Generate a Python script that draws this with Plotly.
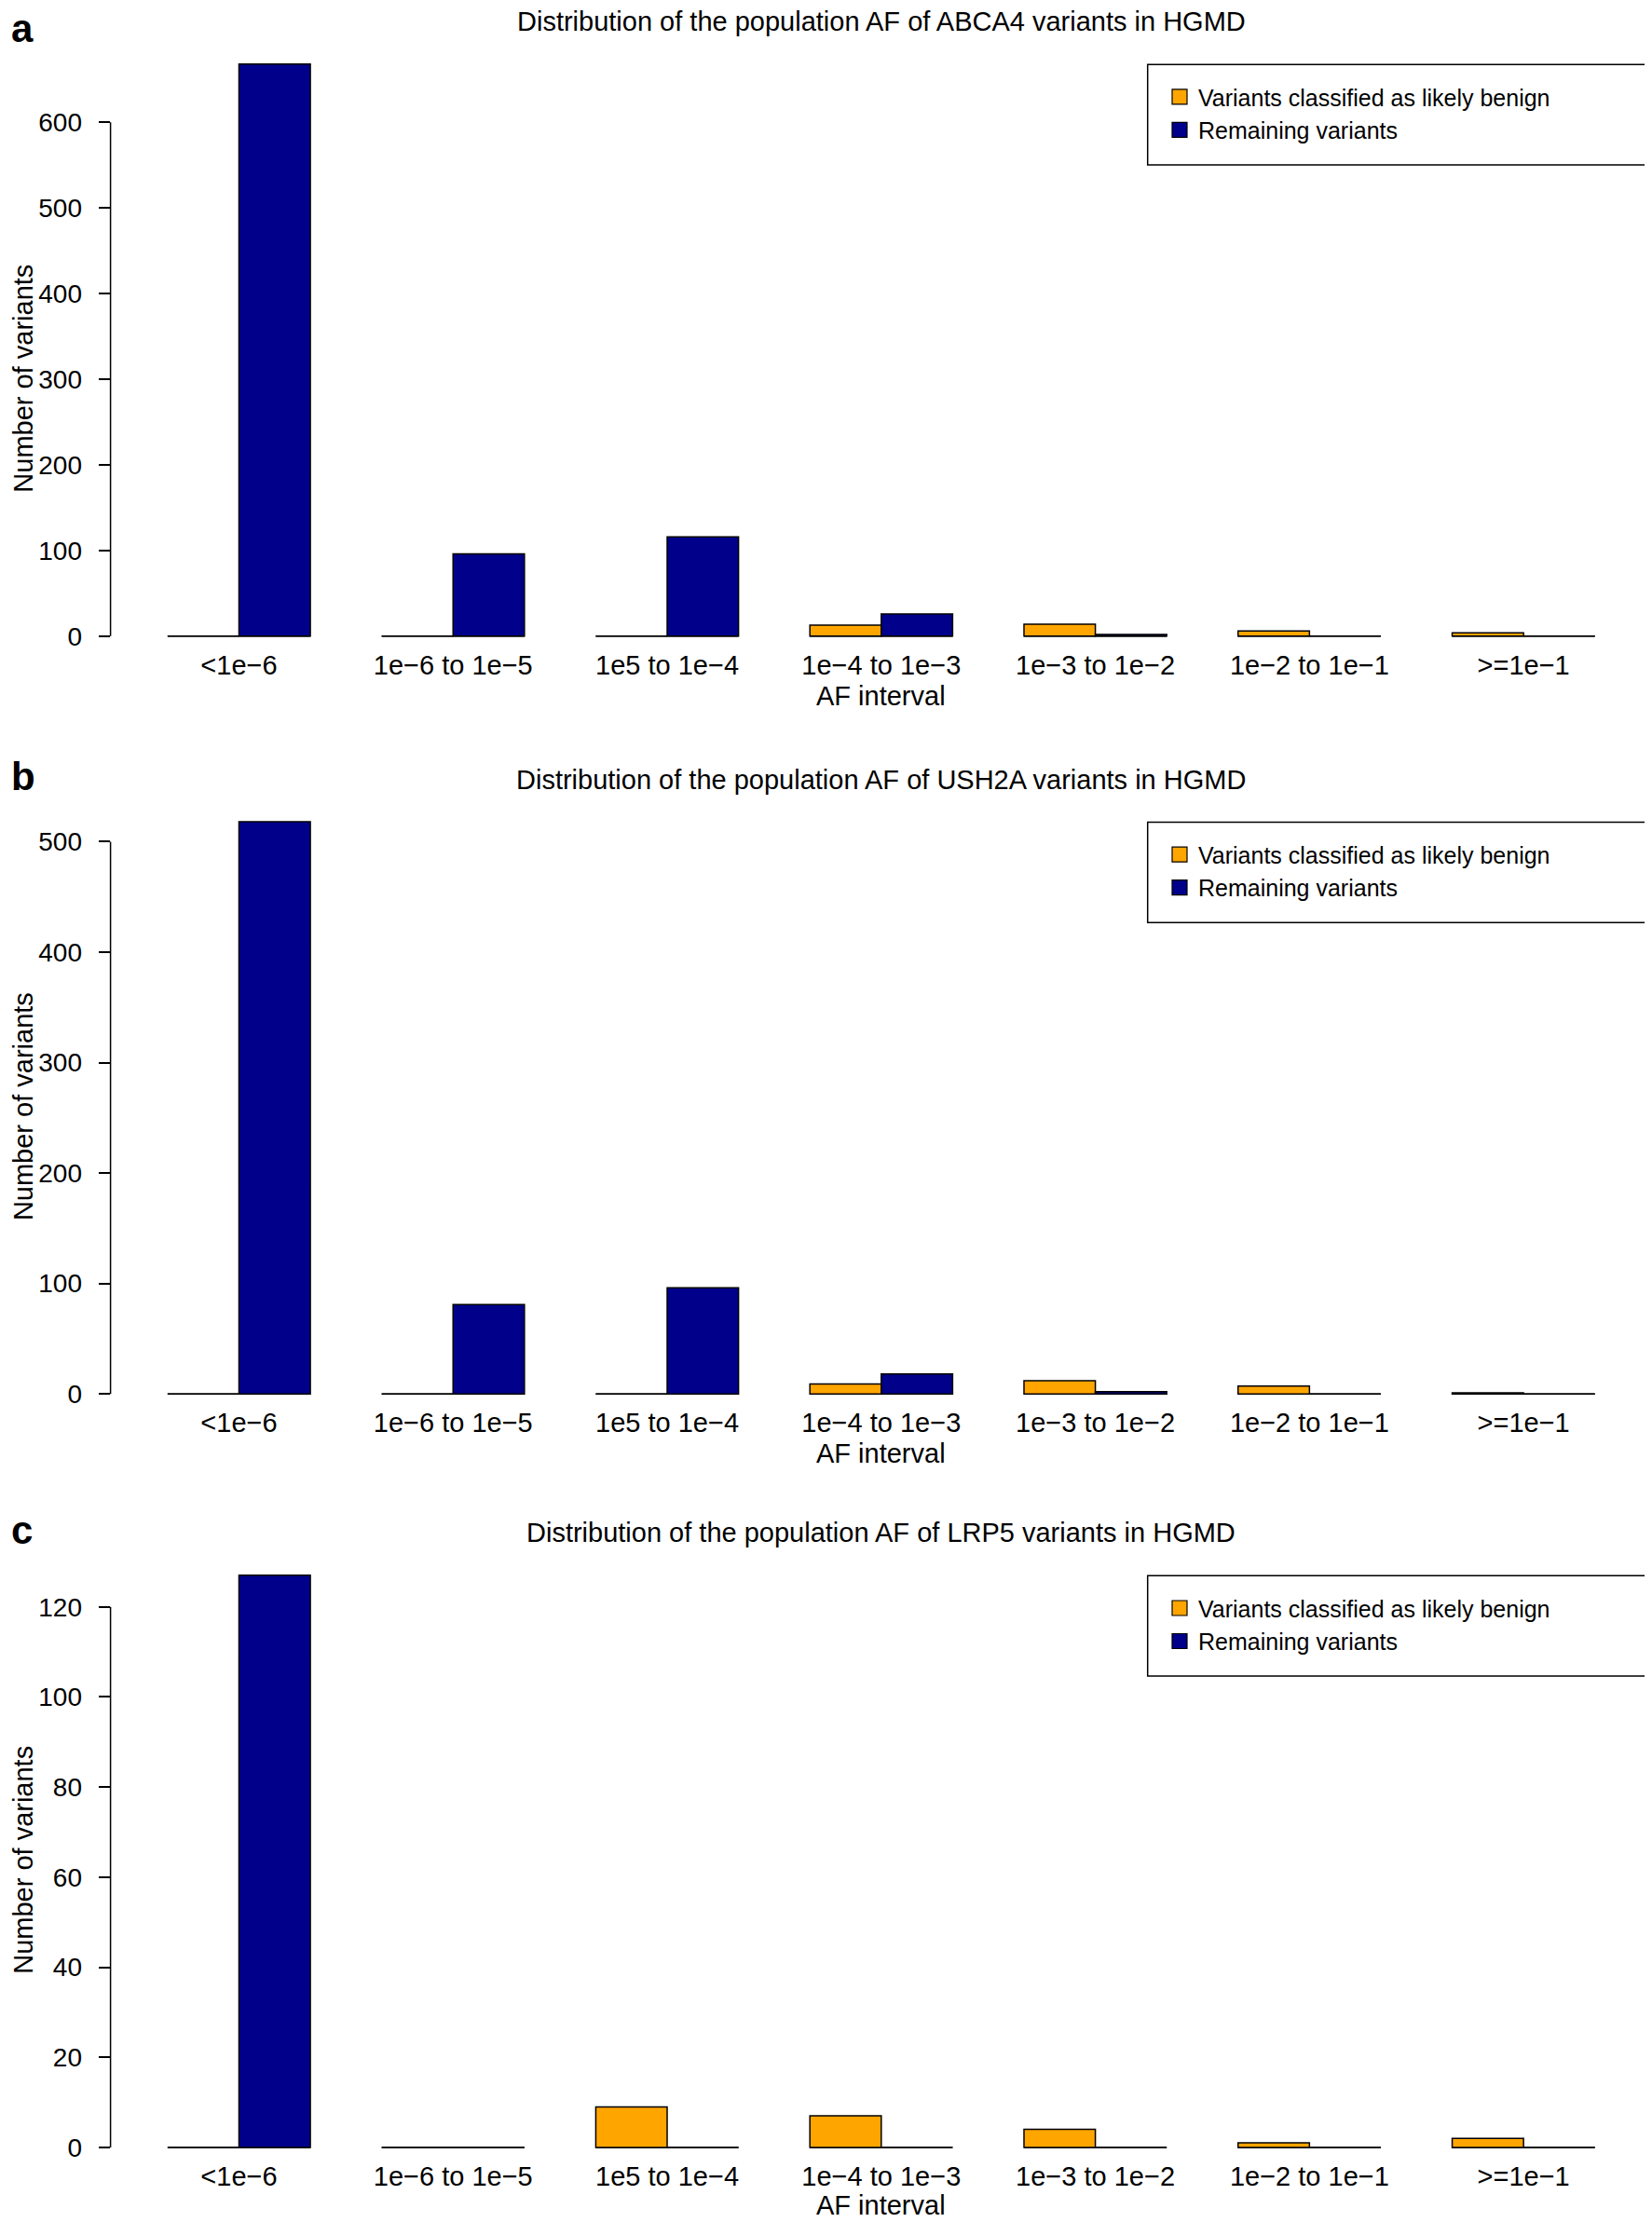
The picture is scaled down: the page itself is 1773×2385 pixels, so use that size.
import plotly.graph_objects as go

# ---------------- data ----------------
categories = ["<1e\u22126", "1e\u22126 to 1e\u22125", "1e5 to 1e\u22124", "1e\u22124 to 1e\u22123",
              "1e\u22123 to 1e\u22122", "1e\u22122 to 1e\u22121", ">=1e\u22121"]
genes = ["ABCA4", "USH2A", "LRP5"]
panel_letters = ["a", "b", "c"]
series_names = ["Variants classified as likely benign", "Remaining variants"]

benign_abca4 = [0, 0, 0, 13, 14, 6, 4]
remaining_abca4 = [668, 96, 116, 26, 2, 0, 0]
benign_ush2a = [0, 0, 0, 9, 12, 7, 1]
remaining_ush2a = [518, 81, 96, 18, 2, 0, 0]
benign_lrp5 = [0, 0, 9, 7, 4, 1, 2]
remaining_lrp5 = [127, 0, 0, 0, 0, 0, 0]

ticks_abca4 = [0, 100, 200, 300, 400, 500, 600]
ticks_ush2a = [0, 100, 200, 300, 400, 500]
ticks_lrp5 = [0, 20, 40, 60, 80, 100, 120]

benign = [benign_abca4, benign_ush2a, benign_lrp5]
remaining = [remaining_abca4, remaining_ush2a, remaining_lrp5]
ticks = [ticks_abca4, ticks_ush2a, ticks_lrp5]

# ---------------- style / layout ----------------
PAGE_W, PAGE_H = 1773, 2385
OFF = 8                                # default body margin of the html page
W, H = PAGE_W - OFF, PAGE_H - OFF
FONT = "Liberation Sans"
ORANGE = "#FFA500"
BLUE = "#00008B"
COLORS = [ORANGE, BLUE]
BARGAP = 1 / 3
zero_px = [684.3, 1499.3, 2309.8]     # page pixel row of y = 0 in each panel
plot_h = 640.0                         # pixels from y=0 to range top
below_px = 11.0                        # pixels below y=0 to axis bottom
x_left_px = 118.6
xtitle_dy = [64, 64, 62]               # AF interval label offset below y=0
letter_dy = [654, 664, 664]            # panel letter offset above y=0


def py(p):
    return 1 - (p - OFF) / H


def px(p):
    return (p - OFF) / W


fig = go.Figure()
shapes = []
annotations = []
layout = {}

for i in range(3):
    n = "" if i == 0 else str(i + 1)
    xa, ya = "x" + n, "y" + n
    lg = "legend" + n
    ymax = 1.04 * max(max(benign[i]), max(remaining[i]))
    k = plot_h / ymax
    z = zero_px[i]
    ymin = -below_px / k
    top_px = z - plot_h
    bot_px = z + below_px

    for s, vals in enumerate([benign[i], remaining[i]]):
        fig.add_trace(go.Bar(x=categories, y=vals, name=series_names[s],
                             marker=dict(color=COLORS[s], line=dict(color="black", width=1.5)),
                             xaxis=xa, yaxis=ya, showlegend=False))
    # legend keys (larger square swatches, as in the original)
    for s in range(2):
        fig.add_trace(go.Scatter(x=[None], y=[None], mode="markers", name=series_names[s],
                                 marker=dict(symbol="square", size=17, color=COLORS[s],
                                             line=dict(color="black", width=1.2)),
                                 xaxis=xa, yaxis=ya, legend=lg, hoverinfo="skip"))

    layout["xaxis" + n] = dict(
        domain=[px(x_left_px), 1], range=[-0.6, len(categories) - 0.4],
        anchor=ya, showline=False, showgrid=False, zeroline=False, ticks="",
        tickfont=dict(family=FONT, size=29, color="black"),
        categoryorder="array", categoryarray=categories,
    )
    layout["yaxis" + n] = dict(
        domain=[py(bot_px), py(top_px)], range=[ymin, ymax], anchor=xa,
        showline=False, showgrid=False, zeroline=False,
        ticks="outside", ticklen=12, tickwidth=1.5, tickcolor="black",
        tickvals=ticks[i], ticklabelstandoff=12,
        tickfont=dict(family=FONT, size=28, color="black"),
    )

    # y axis line spanning the tick range (base R style)
    shapes.append(dict(type="line", xref=xa + " domain", x0=0, x1=0, yref=ya,
                       y0=ticks[i][0], y1=ticks[i][-1],
                       line=dict(color="black", width=1.5)))
    # baseline under every bar group (R draws zero-height bars as lines)
    half = (1 - BARGAP) / 2
    for j in range(len(categories)):
        shapes.append(dict(type="line", xref=xa, yref=ya, x0=j - half, x1=j + half,
                           y0=0, y1=0, line=dict(color="black", width=1.5), layer="below"))

    # legend box
    shapes.append(dict(type="rect", xref="paper", yref="paper",
                       x0=px(1231.7), x1=1.002, y0=py(z - 507), y1=py(z - 615),
                       line=dict(color="black", width=1.5), fillcolor="rgba(0,0,0,0)"))
    layout[lg] = dict(x=px(1246), y=py(z - 603), xanchor="left", yanchor="top",
                      bgcolor="rgba(0,0,0,0)", borderwidth=0,
                      font=dict(family=FONT, size=25, color="black"),
                      traceorder="normal")

    # title
    annotations.append(dict(text="Distribution of the population AF of %s variants in HGMD" % genes[i],
                            xref=xa + " domain", x=0.5, yref="paper", y=py(z - 661),
                            xanchor="center", yanchor="middle", showarrow=False,
                            font=dict(family=FONT, size=29, color="black")))
    # panel letter
    annotations.append(dict(text="<b>%s</b>" % panel_letters[i], xref="paper", x=px(OFF + 2),
                            yref="paper", y=py(z - letter_dy[i]), xanchor="left", yanchor="middle",
                            showarrow=False, font=dict(family=FONT, size=42, color="black")))
    # x axis title
    annotations.append(dict(text="AF interval", xref=xa + " domain", x=0.5, yref="paper",
                            y=py(z + xtitle_dy[i]), xanchor="center", yanchor="middle",
                            showarrow=False, font=dict(family=FONT, size=29, color="black")))
    # y axis title
    ycen = [407.5, 1190.6, 2001.0][i]
    annotations.append(dict(text="Number of variants", xref="paper", x=px(25), yref="paper",
                            y=py(ycen), xanchor="center", yanchor="middle", textangle=-90,
                            showarrow=False, font=dict(family=FONT, size=29, color="black")))

fig.update_layout(
    width=W, height=H, margin=dict(l=0, r=0, t=0, b=0),
    paper_bgcolor="white", plot_bgcolor="white",
    barmode="group", bargap=BARGAP, bargroupgap=0,
    shapes=shapes, annotations=annotations,
    **layout,
)

fig.write_html("out.html")
